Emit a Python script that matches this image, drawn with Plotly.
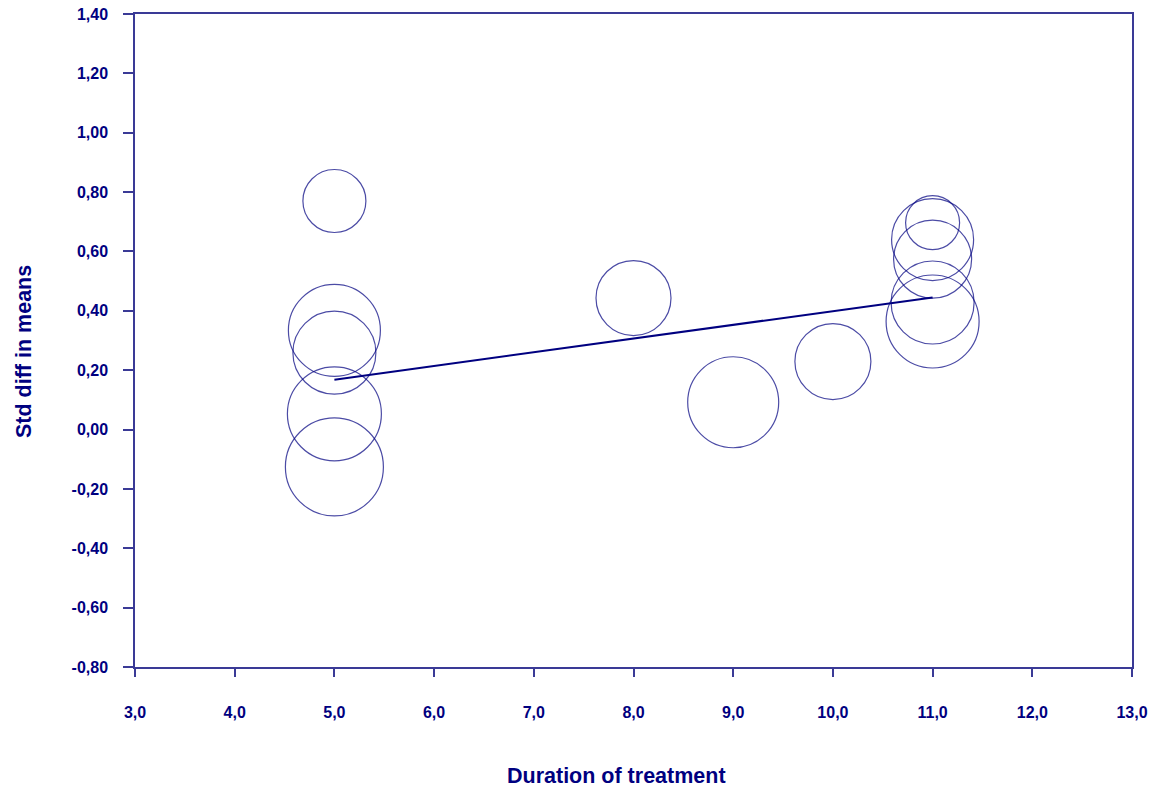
import plotly.graph_objects as go

# Data
duration = [5, 5, 5, 5, 5, 8, 9, 10, 11, 11, 11, 11, 11]
std_diff = [0.77, 0.334, 0.259, 0.053, -0.126, 0.443, 0.092, 0.229, 0.697, 0.64, 0.574, 0.428, 0.364]
bubble_diam = [63, 92, 83, 94, 98, 75, 91, 76, 54, 82, 78, 83, 93]

reg_x = [5, 11]
reg_y = [0.168, 0.445]

x_tickvals = [3, 4, 5, 6, 7, 8, 9, 10, 11, 12, 13]
x_ticktext = ["3,0", "4,0", "5,0", "6,0", "7,0", "8,0", "9,0", "10,0", "11,0", "12,0", "13,0"]
y_tickvals = [-0.8, -0.6, -0.4, -0.2, 0.0, 0.2, 0.4, 0.6, 0.8, 1.0, 1.2, 1.4]
y_ticktext = ["-0,80", "-0,60", "-0,40", "-0,20", "0,00", "0,20", "0,40", "0,60", "0,80", "1,00", "1,20", "1,40"]

x_title = "Duration of treatment"
y_title = "Std diff in means"

NAVY = "#000080"
AX = "#3a3a96"

fig = go.Figure()
fig.add_trace(go.Scatter(
    x=duration, y=std_diff, mode="markers",
    marker=dict(symbol="circle", size=bubble_diam, sizemode="diameter",
                color="rgba(0,0,0,0)", line=dict(color=NAVY, width=1.2)),
    showlegend=False, hoverinfo="x+y"))
fig.add_trace(go.Scatter(
    x=reg_x, y=reg_y, mode="lines",
    line=dict(color=NAVY, width=2), showlegend=False))

font_tick = dict(family="Liberation Sans, Arial, sans-serif", size=16, color=NAVY, weight="bold")
font_title = dict(family="Liberation Sans, Arial, sans-serif", size=21.5, color=NAVY, weight="bold")

fig.update_layout(
    width=1152, height=791,
    margin=dict(l=135, r=20, t=14, b=124, autoexpand=False),
    plot_bgcolor="white", paper_bgcolor="white",
    xaxis=dict(range=[3, 13], tickvals=x_tickvals, ticktext=x_ticktext, automargin=False,
               showgrid=False, zeroline=False, showline=True, linecolor=AX, linewidth=1.5,
               mirror=True, ticks="outside", ticklen=8, tickwidth=1.5, tickcolor=AX,
               tickfont=font_tick, ticklabelstandoff=22),
    yaxis=dict(range=[-0.8, 1.4], tickvals=y_tickvals, ticktext=y_ticktext, automargin=False,
               showgrid=False, zeroline=False, showline=True, linecolor=AX, linewidth=1.5,
               mirror=True, ticks="outside", ticklen=10, tickwidth=1.5, tickcolor=AX,
               tickfont=font_tick, ticklabelstandoff=12),
    annotations=[
        dict(text=x_title, xref="paper", yref="paper", x=0.483, y=-0.1669,
             xanchor="center", yanchor="middle", showarrow=False, font=font_title),
        dict(text=y_title, xref="paper", yref="paper", x=-0.1113, y=0.4824,
             xanchor="center", yanchor="middle", textangle=-90, showarrow=False, font=font_title),
    ],
)

fig.write_html("out.html", config={"displayModeBar": False},
               post_script="document.body.style.margin='0';")
